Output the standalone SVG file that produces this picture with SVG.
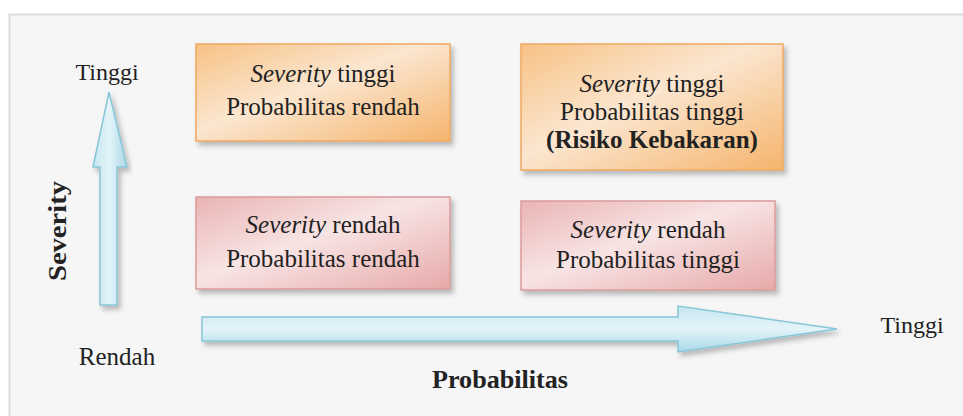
<svg xmlns="http://www.w3.org/2000/svg" width="963" height="416" viewBox="0 0 963 416">
<style>
  .t { font-family: "Liberation Serif", "Times New Roman", serif; fill: #222; }
  .box { font-size: 25px; text-anchor: middle; }
  .ax { font-size: 24px; text-anchor: middle; }
  .b { font-weight: bold; }
  .i { font-style: italic; }
  .arrow { fill: url(#gBlue); stroke: #86c6d8; stroke-width: 1.5; filter: url(#sh); }
</style>
<defs>
  <linearGradient id="gOrange" x1="0" y1="0" x2="1" y2="1">
    <stop offset="0" stop-color="#f7c285"/>
    <stop offset="0.45" stop-color="#fbe6d0"/>
    <stop offset="1" stop-color="#f5b46c"/>
  </linearGradient>
  <linearGradient id="gRed" x1="0" y1="0" x2="1" y2="1">
    <stop offset="0" stop-color="#eab4b4"/>
    <stop offset="0.45" stop-color="#f8e4e4"/>
    <stop offset="1" stop-color="#e7a9a9"/>
  </linearGradient>
  <linearGradient id="gBlue" x1="0" y1="0" x2="0" y2="1">
    <stop offset="0" stop-color="#c5e6f0"/>
    <stop offset="0.5" stop-color="#e4f4f9"/>
    <stop offset="1" stop-color="#a9d7e6"/>
  </linearGradient>
  <linearGradient id="gBlueV" x1="0" y1="0" x2="1" y2="0">
    <stop offset="0" stop-color="#c5e6f0"/>
    <stop offset="0.5" stop-color="#e4f4f9"/>
    <stop offset="1" stop-color="#a9d7e6"/>
  </linearGradient>
  <filter id="sh" x="-10%" y="-20%" width="125%" height="150%">
    <feDropShadow dx="3" dy="4" stdDeviation="2.5" flood-color="#000" flood-opacity="0.25"/>
  </filter>
</defs>

<rect id="panel" x="9.5" y="14.5" width="960" height="410" fill="#f6f6f6" stroke="#dcdcdc" stroke-width="2"/>

<g id="connectors">
  <path id="arrow-severity" class="arrow" style="fill:url(#gBlueV)" d="M100,305 L100,167 L93,167 L109,92 L127,167 L117,167 L117,305 Z"/>
  <path id="arrow-probabilitas" class="arrow" d="M202,317 L678,317 L678,306 L837,329 L678,352 L678,341 L202,341 Z"/>
</g>

<g id="box-tl">
  <rect x="196" y="44" width="254" height="97" fill="url(#gOrange)" stroke="#efa860" stroke-width="1.5" filter="url(#sh)"/>
  <text class="t box" x="323" y="82"><tspan class="i">Severity</tspan> tinggi</text>
  <text class="t box" x="323" y="115">Probabilitas rendah</text>
</g>

<g id="box-tr">
  <rect x="521" y="44" width="262" height="126" fill="url(#gOrange)" stroke="#efa860" stroke-width="1.5" filter="url(#sh)"/>
  <text class="t box" x="652" y="92"><tspan class="i">Severity</tspan> tinggi</text>
  <text class="t box" x="652" y="120">Probabilitas tinggi</text>
  <text class="t box b" x="652" y="148">(Risiko Kebakaran)</text>
</g>

<g id="box-bl">
  <rect x="196" y="197" width="254" height="92" fill="url(#gRed)" stroke="#dc9a9a" stroke-width="1.5" filter="url(#sh)"/>
  <text class="t box" x="323" y="233"><tspan class="i">Severity</tspan> rendah</text>
  <text class="t box" x="323" y="267">Probabilitas rendah</text>
</g>

<g id="box-br">
  <rect x="521" y="201" width="254" height="89" fill="url(#gRed)" stroke="#dc9a9a" stroke-width="1.5" filter="url(#sh)"/>
  <text class="t box" x="648" y="238"><tspan class="i">Severity</tspan> rendah</text>
  <text class="t box" x="648" y="268">Probabilitas tinggi</text>
</g>

<g id="labels">
  <text class="t ax" x="107" y="80">Tinggi</text>
  <text class="t ax" x="117" y="365" style="font-size:25px">Rendah</text>
  <text class="t ax b" x="0" y="0" transform="translate(66,231) rotate(-90)" style="font-size:26px" textLength="100" lengthAdjust="spacingAndGlyphs">Severity</text>
  <text class="t ax" x="912" y="333">Tinggi</text>
  <text class="t ax b" x="500" y="388" style="font-size:25px" textLength="136" lengthAdjust="spacingAndGlyphs">Probabilitas</text>
</g>
</svg>
